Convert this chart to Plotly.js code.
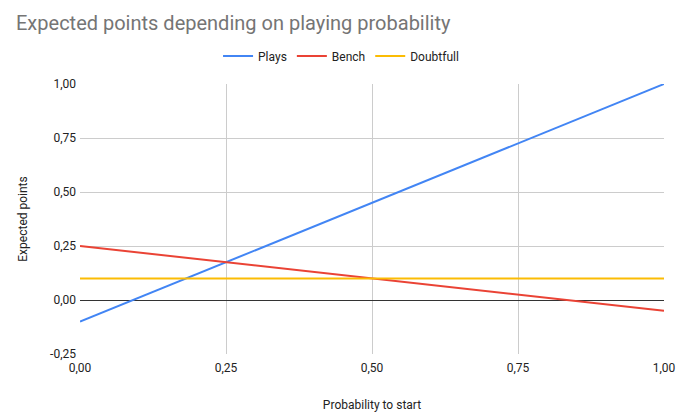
<!DOCTYPE html>
<html>
<head>
<meta charset="utf-8">
<script src="https://cdn.plot.ly/plotly-3.0.1.min.js"></script>
<style>
  html, body { margin: 0; padding: 0; background: #fff; }
  #graphDiv { width: 680px; height: 416px; }
</style>
</head>
<body>
<div id="graphDiv"></div>
<script>
// expected points vs probability to start
const probability = [0, 0.25, 0.5, 0.75, 1]
const plays = [-0.1, 0.175, 0.45, 0.725, 1.0]
const bench = [0.25, 0.175, 0.1, 0.025, -0.05]
const doubtfull = [0.1, 0.1, 0.1, 0.1, 0.1]

const xTickVals = [0, 0.25, 0.5, 0.75, 1]
const xTickText = ['0,00', '0,25', '0,50', '0,75', '1,00']
const yTickVals = [-0.25, 0, 0.25, 0.5, 0.75, 1]
const yTickText = ['-0,25', '0,00', '0,25', '0,50', '0,75', '1,00']

let graphDiv = document.getElementById('graphDiv')

function lineTrace(name, y, color) {
    return {
        x: probability,
        y: y,
        name: name,
        type: 'scatter',
        mode: 'lines',
        line: { color: color, width: 2 }
    }
}

let traces = [
    lineTrace('Plays', plays, '#4285F4'),
    lineTrace('Bench', bench, '#EA4335'),
    lineTrace('Doubtfull', doubtfull, '#FBBC04')
]

const layout = {
    width: 680,
    height: 416,
    margin: { l: 80, r: 16, t: 84, b: 62 },
    paper_bgcolor: '#fff',
    plot_bgcolor: '#fff',
    font: { family: 'Roboto, Arial, sans-serif', size: 12, color: '#222' },
    title: {
        text: 'Expected points depending on playing probability',
        font: { size: 20, color: '#757575' },
        x: 16 / 680, xref: 'container', xanchor: 'left',
        y: 1 - 23 / 416, yref: 'container', yanchor: 'middle'
    },
    showlegend: true,
    legend: {
        orientation: 'h',
        x: 0.447, xanchor: 'center',
        y: 1 + 28 / 270, yanchor: 'middle',
        font: { size: 12, color: '#222' },
        itemwidth: 30
    },
    xaxis: {
        range: [0, 1],
        tickvals: xTickVals,
        ticktext: xTickText,
        showgrid: true,
        gridcolor: '#ccc',
        zeroline: false,
        showline: false,
        ticks: '',
        ticklabelstandoff: 5,
        tickfont: { size: 12, color: '#222' },
        title: { text: 'Probability to start', font: { size: 12, color: '#222' }, standoff: 26 }
    },
    yaxis: {
        range: [-0.25, 1],
        tickvals: yTickVals,
        ticktext: yTickText,
        showgrid: true,
        gridcolor: '#ccc',
        zeroline: true,
        zerolinecolor: '#333',
        zerolinewidth: 1,
        showline: false,
        ticks: '',
        ticklabelstandoff: 3,
        tickfont: { size: 12, color: '#222' },
        title: { text: 'Expected points', font: { size: 12, color: '#222' }, standoff: 19 }
    }
}

Plotly.newPlot(graphDiv, traces, layout, { displayModeBar: false, staticPlot: true })
</script>
</body>
</html>
